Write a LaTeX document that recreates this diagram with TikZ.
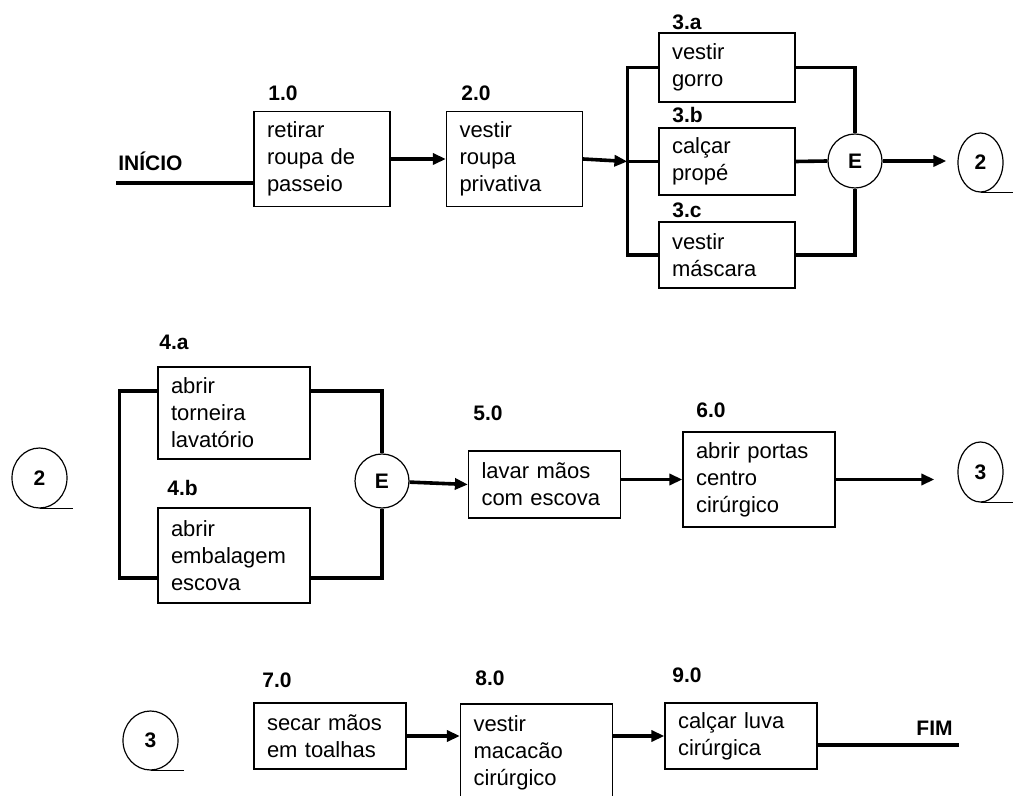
\documentclass[tikz,border=0pt]{standalone}
\usepackage{fontspec}
\setmainfont{Liberation Sans}
\usetikzlibrary{arrows.meta,shapes.geometric,calc}

\begin{document}
\begin{tikzpicture}[
  x=0.5pt,y=-0.5pt,
  proc/.style={draw,line width=0.6pt,align=left,inner xsep=6.5pt,
    font=\fontsize{11}{13.5}\selectfont,text width=63pt},
  procn/.style={proc,text width=55pt},
  num/.style={anchor=west,inner sep=0pt,font=\fontsize{10.5}{12}\selectfont\bfseries},
  andc/.style={circle,draw,line width=0.6pt,minimum size=27pt,inner sep=0pt,
    font=\fontsize{10.5}{12}\selectfont\bfseries},
  pagec/.style={ellipse,draw,line width=0.6pt,inner sep=0pt,
    font=\fontsize{10.5}{12}\selectfont\bfseries},
  conn/.style={line width=1.8pt},
  ar/.style={conn,-{Triangle[length=6.5pt,width=5.5pt]}},
  tail/.style={line width=0.6pt}
]
\useasboundingbox (0,0) rectangle (1013,796);
\clip (0,0) rectangle (1013,796);

% linha 1
\node[num,anchor=base west] (ini) at (118,170.5) {INÍCIO};
\coordinate (ini0) at (116,183);
\node[procn,minimum height=47.5pt] (b1) at (322,159) {retirar\\roupa de\\passeio};
\node[procn,minimum height=47.5pt] (b2) at (514.5,159) {vestir\\roupa\\privativa};
\node[procn,minimum height=34.5pt] (b3a) at (727,67.5) {vestir\\gorro};
\node[procn,minimum height=33.5pt] (b3b) at (727,161.5) {calçar\\propé};
\node[procn,minimum height=33pt] (b3c) at (727,255) {vestir\\máscara};
\node[andc] (e1) at (855,161) {E};
\node[pagec,minimum width=22.5pt,minimum height=29.5pt] (c2a) at (980.5,162.5) {2};
\node[num] (n1) at (268,93) {1.0};
\node[num] (n2) at (461,93) {2.0};
\node[num] (n3a) at (672,22) {3.a};
\node[num] (n3b) at (672,115) {3.b};
\node[num] (n3c) at (672,210) {3.c};
\coordinate (j1) at ([xshift=-15.5pt]b3b.west);

\draw[conn] (ini0) -- (ini0 -| b1.west);
\draw[ar] (b1) -- (b2);
\draw[ar] (b2.east) -- (j1);
\draw[conn] (b3a.west) -| (j1) |- (b3c.west);
\draw[conn] (j1) -- (b3b.west);
\draw[conn] (b3a.east) -| (e1.north);
\draw[conn] (b3b.east) -- (e1.west);
\draw[conn] (b3c.east) -| (e1.south);
\draw[ar,shorten >=5.5pt] (e1.east) -- (e1.east -| c2a.west);
\draw[tail] (c2a.south) -- ++(33,0);

% linha 2
\node[pagec,minimum width=27.5pt,minimum height=30pt] (c2b) at (39.5,478) {2};
\node[proc,minimum height=46pt] (b4a) at (234,413) {abrir\\torneira\\lavatório};
\node[proc,minimum height=47.5pt] (b4b) at (234,555.5) {abrir\\embalagem\\escova};
\node[andc] (e2) at (382,481) {E};
\node[proc,minimum height=33.5pt] (b5) at (544.5,484.5) {lavar mãos\\com escova};
\node[proc,minimum height=47.5pt] (b6) at (759,479.5) {abrir portas\\centro\\cirúrgico};
\node[pagec,minimum width=22.5pt,minimum height=30pt] (c3a) at (980.5,472) {3};
\node[num] (n4a) at (159,342) {4.a};
\node[num] (n4b) at (167,488) {4.b};
\node[num] (n5) at (473,413) {5.0};
\node[num] (n6) at (696,410) {6.0};

\draw[tail] (c2b.south) -- ++(33,0);
\draw[conn] ([yshift=11pt]b4a.west) -- ++(-38,0) |- ([yshift=-11.25pt]b4b.west);
\draw[conn] ([yshift=11pt]b4a.east) -| (e2.north);
\draw[conn] ([yshift=-11.25pt]b4b.east) -| (e2.south);
\draw[ar] (e2) -- (b5.west);
\draw[ar] (b6.west -| b5.east) -- (b6.west);
\draw[ar,shorten >=11.5pt] (b6.east) -- (b6.east -| c3a.west);
\draw[tail] (c3a.south) -- ++(33,0);

% linha 3
\node[pagec,minimum width=27.5pt,minimum height=29.5pt] (c3b) at (150.5,740.5) {3};
\node[proc,minimum height=33pt] (b7) at (330,736) {secar mãos\\em toalhas};
\node[proc,minimum height=49pt] (b8) at (536.5,753) {vestir\\macacão\\cirúrgico};
\node[proc,minimum height=33pt] (b9) at (741,736) {calçar luva\\cirúrgica};
\node[num,anchor=base east] (fim) at (953,735.5) {FIM};
\coordinate (fim0) at (959,745);
\node[num] (n7) at (262,680) {7.0};
\node[num] (n8) at (475,678) {8.0};
\node[num] (n9) at (672,675) {9.0};

\draw[tail] (c3b.south) -- ++(33,0);
\draw[ar] (b7.east) -- (b7.east -| b8.west);
\draw[ar] (b9.west -| b8.east) -- (b9.west);
\draw[conn] (b9.east |- fim0) -- (fim0);
\end{tikzpicture}
\end{document}
